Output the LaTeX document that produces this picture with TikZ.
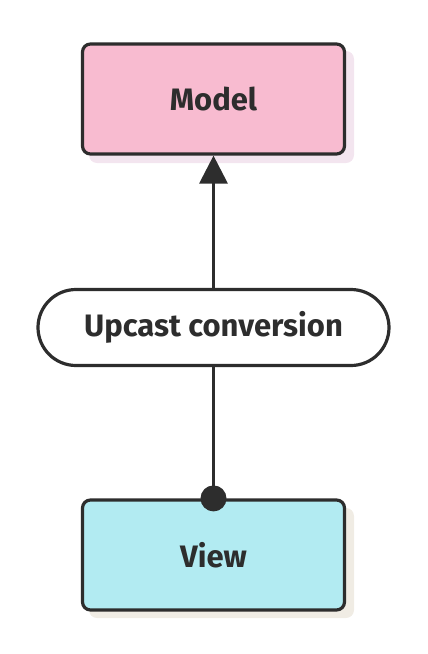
\documentclass[tikz,border=0pt]{standalone}
\usepackage{fontspec}
\setmainfont{Fira Sans}
\usetikzlibrary{arrows.meta}
\definecolor{edge}{HTML}{2D2D2D}
\definecolor{modelfill}{HTML}{F8BBD0}
\definecolor{modelshadow}{HTML}{F3E5EF}
\definecolor{viewfill}{HTML}{B2EBF2}
\definecolor{viewshadow}{HTML}{F0ECE4}
\tikzset{
  box/.style={draw=edge, line width=3.2pt, rounded corners=8pt, minimum width=262pt, minimum height=110pt, font=\fontsize{31}{36}\selectfont\bfseries, text=edge, inner sep=0pt},
  pill/.style={draw=edge, fill=white, line width=3.2pt, rounded corners=38pt, minimum width=351pt, minimum height=76pt, font=\fontsize{31}{36}\selectfont\bfseries, text=edge, inner sep=0pt},
  conn/.style={draw=edge, line width=3.2pt}
}
\begin{document}
\begin{tikzpicture}[x=1pt,y=-1pt]
\useasboundingbox (0,0) rectangle (428,654);
% shadows
\fill[modelshadow, rounded corners=8pt] (89,51) rectangle (354,163);
\fill[viewshadow, rounded corners=8pt] (89,508) rectangle (354,618);
\node[box, fill=modelfill] (model) at (213.5,99) {Model};
\node[pill] (conv) at (213.5,327.5) {Upcast conversion};
\node[box, fill=viewfill] (view) at (213.5,555) {View};
\draw[conn, -{Triangle[length=28pt,width=28pt]}] (conv.north) -- (model.south);
\draw[conn] (conv.south) -- (view.north);
\fill[edge] (view.north) circle (13pt);
\end{tikzpicture}
\end{document}
